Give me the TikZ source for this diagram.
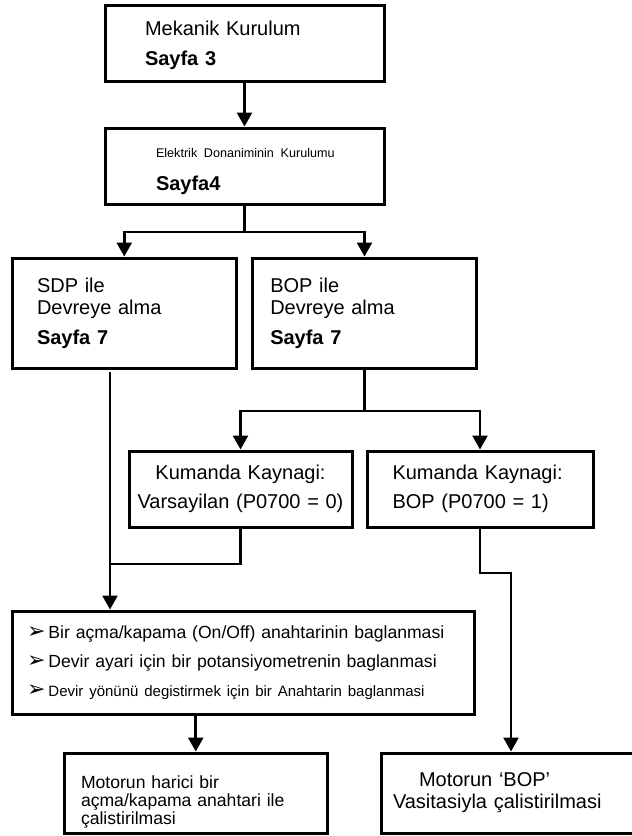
\documentclass[tikz,border=0pt]{standalone}
\usepackage{fontspec}
\setmainfont{Liberation Sans}
\newfontfamily\dingfont{DejaVu Sans}
\usetikzlibrary{arrows.meta}
\newcommand{\puce}{{\dingfont\fontsize{11}{6}\selectfont ➢}\hspace{1.5pt}}

\begin{document}
\begin{tikzpicture}[x=0.5pt,y=-0.5pt]
 % style des boites
  \tikzstyle{boite}=[rectangle,draw,line width=1.5pt,inner sep=0pt,align=left]
 % style des fleches
  \tikzstyle{ligne}=[line width=1.3pt]
  \tikzstyle{fleche}=[ligne,-{Triangle[width=7.5pt,length=7pt]}]
  \useasboundingbox (0,0) rectangle (632,836);
 % placement des boites
  \node[boite,minimum width=139.5pt,minimum height=38pt,text width=99.5pt,text height=15pt,text depth=23pt,font=\fontsize{10}{15}\selectfont] (meka) at (244.5,43) {Mekanik Kurulum\\\textbf{Sayfa 3}};
  \node[boite,minimum width=139.5pt,minimum height=38pt,text width=88.5pt,text height=14.5pt,text depth=23.5pt,font=\fontsize{10}{16.5}\selectfont] (elek) at (244.5,166) {\mbox{\fontsize{6.3}{7}\selectfont Elektrik Donaniminin Kurulumu}\\\textbf{Sayfa4}};
  \node[boite,minimum width=111.75pt,minimum height=55pt,text width=87.25pt,font=\fontsize{10}{11}\selectfont] (sdp) at (124.25,313) {SDP ile\\Devreye alma\\[4pt]\textbf{Sayfa 7}};
  \node[boite,minimum width=111.75pt,minimum height=55pt,text width=94.25pt,font=\fontsize{10}{11}\selectfont] (bop) at (364.5,313) {BOP ile\\Devreye alma\\[4pt]\textbf{Sayfa 7}};
  \node[boite,align=center,minimum width=111.5pt,minimum height=38pt,text width=108pt,font=\fontsize{10}{14.5}\selectfont] (kum1) at (240.5,489) {Kumanda Kaynagi:\\Varsayilan (P0700 = 0)};
  \node[boite,minimum width=113pt,minimum height=38pt,text width=87.5pt,font=\fontsize{10}{14.5}\selectfont] (kum2) at (480,489) {Kumanda Kaynagi:\\BOP (P0700 = 1)};
  \node[boite,minimum width=230.75pt,minimum height=51.5pt,text width=216.25pt,font=\fontsize{8.8}{14.5}\selectfont] (liste) at (243.25,662.5) {\puce Bir açma/kapama (On/Off) anahtarinin baglanmasi\\\puce Devir ayari için bir potansiyometrenin baglanmasi\\\puce{\fontsize{7.5}{9}\selectfont Devir yönünü degistirmek için bir Anahtarin baglanmasi}};
  \node[boite,minimum width=131.25pt,minimum height=40pt,text width=114.75pt,text height=17.5pt,text depth=22.5pt,font=\fontsize{8.8}{9}\selectfont] (bot1) at (195.75,793) {Motorun harici bir\\açma/kapama anahtari ile\\çalistirilmasi};
  \node[boite,minimum width=134.5pt,minimum height=40pt,text width=122.5pt,font=\fontsize{10}{11}\selectfont] (bot2) at (515.5,793) {\hspace*{13pt}Motorun ‘BOP’\\Vasitasiyla çalistirilmasi};
 % points de passage
  \coordinate (b1) at (244.5,232);
  \coordinate (b2) at (364.5,411);
  \coordinate (s) at (110,372);
  \coordinate (j) at (110,564);
  \coordinate (k) at (511,573);
 % placement des fleches
  \draw[fleche] (meka) -- (elek);
  \draw[ligne] (elek) -- (b1);
  \draw[fleche] (b1) -| (sdp);
  \draw[fleche] (b1) -| (bop);
  \draw[ligne] (bop) -- (b2);
  \draw[fleche] (b2) -| (kum1);
  \draw[fleche] (b2) -| (kum2);
  \draw[ligne] (kum1) |- (j);
  \draw[fleche] (s) -- (j) -- (j |- liste.north);
  \draw[fleche] (kum2) |- (k) -- (k |- bot2.north);
  \draw[fleche] (liste.south -| bot1) -- (bot1);
\end{tikzpicture}
\end{document}
